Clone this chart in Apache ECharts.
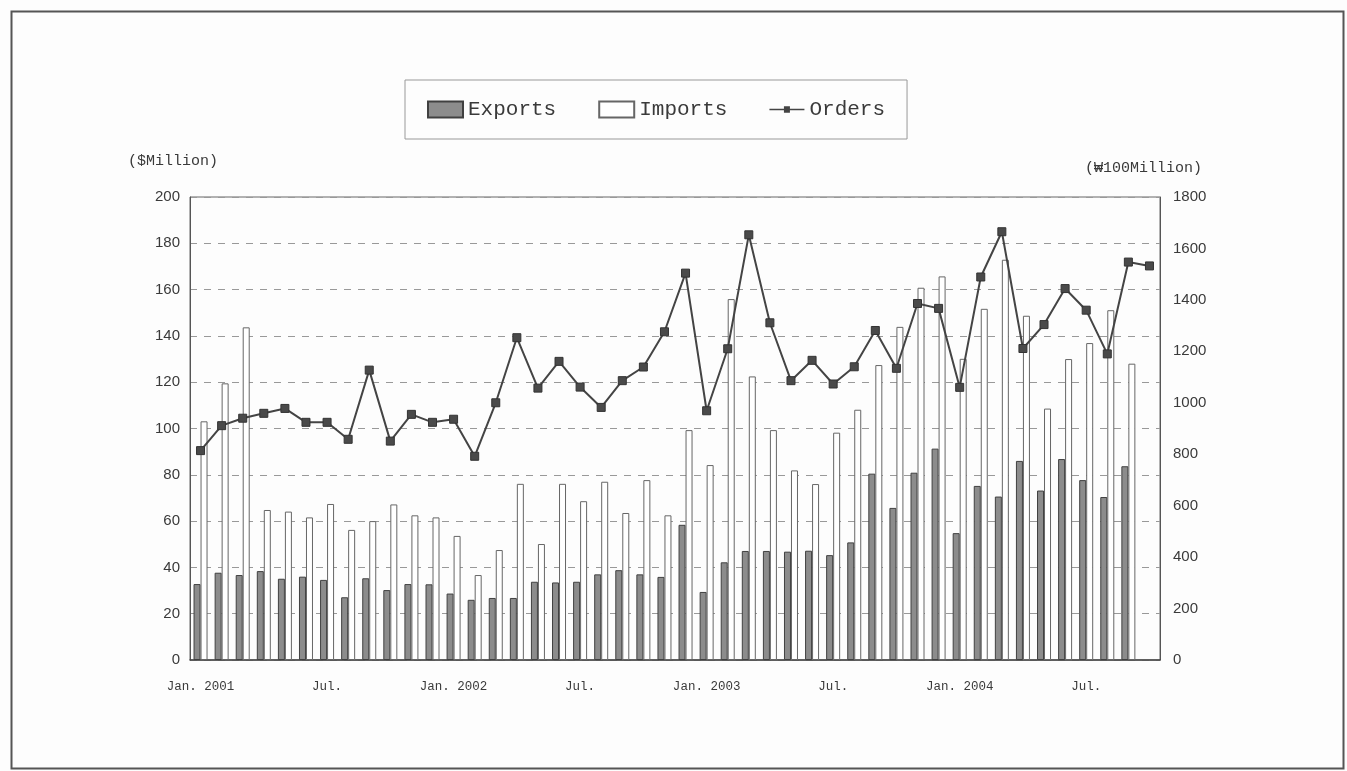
<!DOCTYPE html>
<html>
<head>
<meta charset="utf-8">
<script src="https://cdn.jsdelivr.net/npm/echarts@6/dist/echarts.min.js"></script>
<style>
html,body{margin:0;padding:0;background:#fdfdfd;}
#chart{width:1347px;height:771px;}
</style>
</head>
<body>
<div id="chart"></div>
<script>
// Months Jan 2001 .. Oct 2004
var categories = [];
(function(){
  var yrs = [2001, 2002, 2003, 2004];
  for (var y = 0; y < yrs.length; y++) {
    for (var m = 1; m <= 12; m++) {
      if (yrs[y] === 2004 && m > 10) break;
      categories.push(yrs[y] + '-' + (m < 10 ? '0' + m : m));
    }
  }
})();

var tickLabels = {
  '2001-01': 'Jan. 2001', '2001-07': 'Jul.',
  '2002-01': 'Jan. 2002', '2002-07': 'Jul.',
  '2003-01': 'Jan. 2003', '2003-07': 'Jul.',
  '2004-01': 'Jan. 2004', '2004-07': 'Jul.'
};

var exportsData = [32.8, 37.7, 36.7, 38.4, 35.1, 36.0, 34.6, 27.1, 35.3, 30.2, 32.8, 32.7,
  28.7, 26.0, 26.8, 26.8, 33.8, 33.5, 33.8, 37.0, 38.8, 37.0, 35.9, 58.4,
  29.4, 42.2, 47.1, 47.1, 46.8, 47.2, 45.3, 50.8, 80.5, 65.7, 80.9, 91.3,
  54.8, 75.2, 70.6, 86.0, 73.2, 86.8, 77.7, 70.4, 83.7, null];

var importsData = [103.1, 119.5, 143.7, 64.8, 64.1, 61.6, 67.4, 56.2, 60.0, 67.2, 62.5, 61.6,
  53.6, 36.7, 47.5, 76.1, 50.1, 76.1, 68.6, 77.0, 63.5, 77.7, 62.5, 99.3,
  84.2, 155.9, 122.5, 99.3, 81.9, 76.0, 98.2, 108.1, 127.4, 143.9, 160.8, 165.7,
  130.1, 151.7, 172.9, 148.7, 108.6, 130.0, 136.9, 151.1, 128.0, null];

var ordersData = [814, 911, 940, 959, 978, 924, 924, 858, 1127, 851, 955, 924,
  936, 792, 1000, 1253, 1057, 1161, 1061, 982, 1086, 1139, 1276, 1504,
  969, 1210, 1653, 1311, 1086, 1165, 1073, 1140, 1281, 1134, 1386, 1367,
  1060, 1489, 1665, 1211, 1304, 1444, 1360, 1190, 1547, 1532];

var chart = echarts.init(document.getElementById('chart'));
var textColor = '#3a3a3a';
// legend icon for Orders: thin line with small square; corner dots keep a 35x16 box
var ordersIcon = 'path://M0,0L0.01,0L0,0.01Z M35,16L34.99,16L35,15.99Z M0,7.2H14.5V8.8H0Z M20.5,7.2H35V8.8H20.5Z M14.5,4.8H20.5V11.2H14.5Z';
var option = {
  backgroundColor: '#fdfdfd',
  animation: false,
  graphic: [
    { type: 'rect', left: 9, top: 9, shape: { width: 1332, height: 757 },
      style: { fill: 'none', stroke: '#555', lineWidth: 2 }, silent: true },
    { type: 'text', left: 128, top: 154,
      style: { text: '($Million)', font: '15px "Liberation Mono", monospace', fill: textColor } },
    { type: 'text', left: 1085, top: 161,
      style: { text: '(\u20A9100Million)', font: '15px "Liberation Mono", monospace', fill: textColor } }
  ],
  legend: {
    left: 405, top: 80,
    padding: [19, 22, 19, 22],
    itemGap: 42,
    itemWidth: 35, itemHeight: 16,
    borderColor: '#999', borderWidth: 1,
    textStyle: { fontFamily: '"Liberation Mono", monospace', fontSize: 21, color: textColor },
    data: [
      { name: 'Exports', icon: 'rect' },
      { name: 'Imports', icon: 'rect' },
      { name: 'Orders', icon: ordersIcon, itemStyle: { color: '#444', borderWidth: 0 } }
    ]
  },
  grid: {
    left: 190, right: 187, top: 197, bottom: 111,
    show: true, borderColor: '#666', borderWidth: 1, backgroundColor: 'transparent'
  },
  xAxis: {
    type: 'category',
    data: categories,
    boundaryGap: true,
    axisLine: { lineStyle: { color: '#444', width: 1.5 } },
    axisTick: { show: false },
    axisLabel: {
      interval: 0, margin: 20,
      fontFamily: '"Liberation Mono", monospace', fontSize: 12.5, color: textColor,
      formatter: function (v) { return tickLabels[v] || ''; }
    },
    splitLine: { show: false }
  },
  yAxis: [
    {
      type: 'value', min: 0, max: 200, interval: 20,
      axisLine: { show: true, lineStyle: { color: '#555' } },
      axisTick: { show: false },
      axisLabel: { margin: 10, fontFamily: '"Liberation Sans", Arial, sans-serif', fontSize: 15, color: textColor },
      splitLine: { show: true, lineStyle: { color: '#999', type: [7, 7], width: 1 } }
    },
    {
      type: 'value', min: 0, max: 1800, interval: 200,
      position: 'right',
      axisLine: { show: true, lineStyle: { color: '#555' } },
      axisTick: { show: false },
      axisLabel: { margin: 13, fontFamily: '"Liberation Sans", Arial, sans-serif', fontSize: 15, color: textColor,
        formatter: function (v) { return String(v); } },
      splitLine: { show: false }
    }
  ],
  series: [
    {
      name: 'Exports', type: 'bar', yAxisIndex: 0,
      data: exportsData, barWidth: 7, barGap: '0%',
      itemStyle: { color: '#8c8c8c', borderColor: '#404040', borderWidth: 1 }
    },
    {
      name: 'Imports', type: 'bar', yAxisIndex: 0,
      data: importsData, barWidth: 7, barGap: '0%',
      itemStyle: { color: '#ffffff', borderColor: '#666', borderWidth: 1 }
    },
    {
      name: 'Orders', type: 'line', yAxisIndex: 1,
      data: ordersData,
      symbol: 'rect', symbolSize: 8,
      lineStyle: { color: '#444', width: 2 },
      itemStyle: { color: '#4a4a4a', borderColor: '#333', borderWidth: 1 },
      z: 5
    }
  ]
};
chart.setOption(option);
</script>
</body>
</html>
